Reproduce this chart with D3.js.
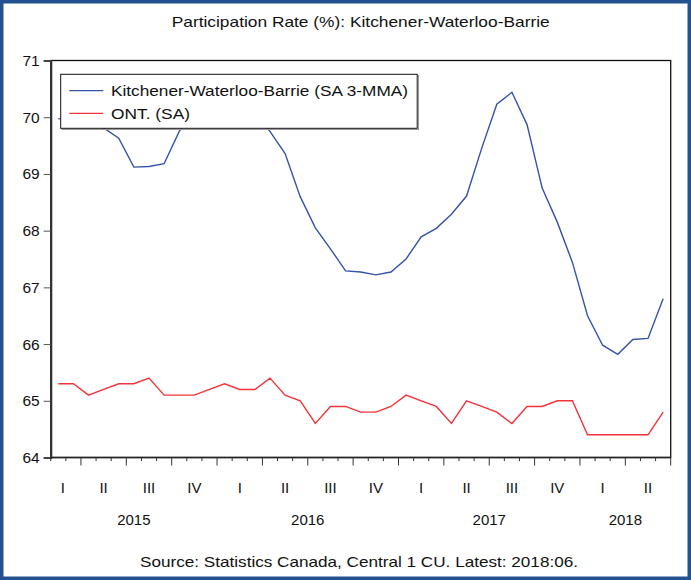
<!DOCTYPE html>
<html>
<head>
<meta charset="utf-8">
<script src="https://cdn.jsdelivr.net/npm/d3@7"></script>
<style>
  html, body { margin: 0; padding: 0; background: #fff; }
  svg { display: block; font-family: "Liberation Sans", Arial, sans-serif; }
</style>
</head>
<body>
<svg id="chart" width="691" height="580"></svg>
<script>
// Monthly observations, Feb 2015 – Jun 2018
const months = [
  "2015-02","2015-03","2015-04","2015-05","2015-06","2015-07","2015-08","2015-09","2015-10","2015-11","2015-12",
  "2016-01","2016-02","2016-03","2016-04","2016-05","2016-06","2016-07","2016-08","2016-09","2016-10","2016-11","2016-12",
  "2017-01","2017-02","2017-03","2017-04","2017-05","2017-06","2017-07","2017-08","2017-09","2017-10","2017-11","2017-12",
  "2018-01","2018-02","2018-03","2018-04","2018-05","2018-06"
];

// Kitchener-Waterloo-Barrie, seasonally adjusted 3-month moving average
const kwb = [
  69.97, 70.0, 69.92, 69.81, 69.63, 69.12, 69.13, 69.18, 69.75, 70.15, 70.35,
  70.4, 70.3, 70.05, 69.75, 69.36, 68.6, 68.05, 67.68, 67.29, 67.27, 67.22, 67.27,
  67.5, 67.89, 68.04, 68.29, 68.61, 69.45, 70.23, 70.44, 69.87, 68.75, 68.15, 67.44,
  66.5, 65.98, 65.82, 66.08, 66.1, 66.8
];

// Ontario, seasonally adjusted
const ont = [
  65.3, 65.3, 65.1, 65.2, 65.3, 65.3, 65.4, 65.1, 65.1, 65.1, 65.2,
  65.3, 65.2, 65.2, 65.4, 65.1, 65.0, 64.6, 64.9, 64.9, 64.8, 64.8, 64.9,
  65.1, 65.0, 64.9, 64.6, 65.0, 64.9, 64.8, 64.6, 64.9, 64.9, 65.0, 65.0,
  64.4, 64.4, 64.4, 64.4, 64.4, 64.8
];

const yTicks = [64, 65, 66, 67, 68, 69, 70, 71];
const quarterNames = ["I", "II", "III", "IV"];
const seriesNames = ["Kitchener-Waterloo-Barrie (SA 3-MMA)", "ONT. (SA)"];

const svg = d3.select("#chart");
const W = 691, H = 580;
const plot = { left: 50.7, right: 670.7, top: 60.5, bottom: 457.5 };

const blue = "#3553a8", red = "#f2333a";

// outer frame
svg.append("rect").attr("x", 1.75).attr("y", 1.75).attr("width", W - 3.5).attr("height", H - 3.5)
  .attr("fill", "#fff").attr("stroke", "#23528f").attr("stroke-width", 3.5);

// x: month index boundaries, each observation sits mid-month
const x = d3.scaleLinear().domain([0, months.length]).range([plot.left, plot.right]);
const y = d3.scaleLinear().domain([64, 71]).range([plot.bottom, plot.top]);

// title
svg.append("text").attr("x", (plot.left + plot.right) / 2).attr("y", 27)
  .attr("text-anchor", "middle").attr("font-size", 15).attr("fill", "#111")
  .attr("textLength", 378).attr("lengthAdjust", "spacingAndGlyphs")
  .text("Participation Rate (%): Kitchener-Waterloo-Barrie");

// plot frame
svg.append("rect").attr("x", plot.left).attr("y", plot.top)
  .attr("width", plot.right - plot.left).attr("height", plot.bottom - plot.top)
  .attr("fill", "none").attr("stroke", "#111").attr("stroke-width", 1.3);

// y axis
const yAxis = d3.axisLeft(y).tickValues(yTicks).tickSize(7).tickPadding(4).tickFormat(d3.format("d"));
const gy = svg.append("g").attr("transform", `translate(${plot.left},0)`).call(yAxis);
gy.select(".domain").attr("stroke", "#333").attr("stroke-width", 2.2);
gy.selectAll(".tick line").attr("stroke", "#555").attr("stroke-width", 1);
gy.selectAll(".tick text").attr("font-size", 15.5).attr("fill", "#111")
  .attr("font-family", "Liberation Sans, Arial, sans-serif");

// x axis ticks: monthly minor, quarterly major
const boundaries = d3.range(0, months.length + 1);
const monthOf = k => (1 + k) % 12; // 0 = January
const gx = svg.append("g");
gx.append("line").attr("x1", plot.left).attr("x2", plot.right)
  .attr("y1", plot.bottom).attr("y2", plot.bottom).attr("stroke", "#222").attr("stroke-width", 1.5);
gx.selectAll("line.tick").data(boundaries).join("line").attr("class", "tick")
  .attr("x1", d => x(d)).attr("x2", d => x(d))
  .attr("y1", plot.bottom)
  .attr("y2", d => plot.bottom + (monthOf(d) % 3 === 0 ? 8 : 3.5))
  .attr("stroke", "#333").attr("stroke-width", 1);

// quarter and year labels
const parsed = months.map((m, i) => { const [yy, mm] = m.split("-").map(Number); return { yy, mm, i }; });
const quarters = d3.groups(parsed, d => d.yy + "Q" + Math.floor((d.mm - 1) / 3));
gx.selectAll("text.q").data(quarters).join("text").attr("class", "q")
  .attr("x", ([, arr]) => x((arr[0].i + arr[arr.length - 1].i + 1) / 2) - (arr.length < 3 ? 3 : 0))
  .attr("y", 493).attr("text-anchor", "middle").attr("font-size", 15).attr("fill", "#111")
  .text(([, arr]) => quarterNames[Math.floor((arr[0].mm - 1) / 3)]);
const years = d3.groups(parsed, d => d.yy);
gx.selectAll("text.yr").data(years).join("text").attr("class", "yr")
  .attr("x", ([, arr]) => x((arr[0].i + arr[arr.length - 1].i + 1) / 2))
  .attr("y", 525).attr("text-anchor", "middle").attr("font-size", 15).attr("fill", "#111")
  .text(([yr]) => yr);

// series lines
const line = d3.line().x((d, i) => x(i + 0.5)).y(d => y(d));
svg.append("path").datum(ont).attr("d", line).attr("fill", "none")
  .attr("stroke", red).attr("stroke-width", 1.4);
svg.append("path").datum(kwb).attr("d", line).attr("fill", "none")
  .attr("stroke", blue).attr("stroke-width", 1.4);

// legend
const lg = svg.append("g");
lg.append("rect").attr("x", 62).attr("y", 75.5).attr("width", 356.5).attr("height", 54)
  .attr("fill", "none").attr("stroke", "#999").attr("stroke-width", 1);
lg.append("rect").attr("x", 60.7).attr("y", 74.3).attr("width", 356.5).attr("height", 54)
  .attr("fill", "#fff").attr("stroke", "#111").attr("stroke-width", 1);
const legendWidths = [297, 79];
[blue, red].forEach((c, i) => {
  const yy = 90.7 + i * 22.6;
  lg.append("line").attr("x1", 69.3).attr("x2", 103.3).attr("y1", yy).attr("y2", yy)
    .attr("stroke", c).attr("stroke-width", 1.2);
  lg.append("text").attr("x", 111).attr("y", yy + 5.5).attr("font-size", 15.5).attr("fill", "#111")
    .attr("textLength", legendWidths[i]).attr("lengthAdjust", "spacingAndGlyphs")
    .text(seriesNames[i]);
});

// source note
svg.append("text").attr("x", 359).attr("y", 567).attr("text-anchor", "middle")
  .attr("font-size", 15).attr("fill", "#111")
  .attr("textLength", 438).attr("lengthAdjust", "spacingAndGlyphs")
  .text("Source: Statistics Canada, Central 1 CU. Latest: 2018:06.");
</script>
</body>
</html>
